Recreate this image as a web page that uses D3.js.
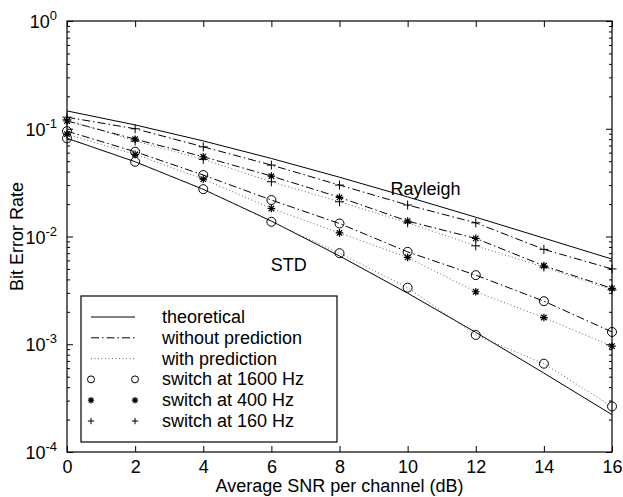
<!DOCTYPE html>
<html>
<head>
<meta charset="utf-8">
<script src="https://cdn.jsdelivr.net/npm/d3@7"></script>
<style>
  body { margin: 0; background: #fff; }
  text { font-family: "Liberation Sans", Arial, sans-serif; fill: #000; }
</style>
</head>
<body>
<div id="chart"></div>
<script>
// SNR points (dB)
const snr = [0, 2, 4, 6, 8, 10, 12, 14, 16];

// theoretical curves
const rayleigh = [0.1464, 0.1085, 0.0771, 0.0530, 0.0355, 0.0233, 0.0151, 0.00966, 0.00617];
const stdCurve = [0.0816, 0.0494, 0.0274, 0.0139, 0.0066, 0.00298, 0.00129, 0.00054, 0.000222];

// without prediction (dash-dot)
const noPred160 = [0.128, 0.100, 0.068, 0.046, 0.030, 0.0196, 0.0134, 0.0076, 0.0050];
const noPred400 = [0.118, 0.080, 0.055, 0.0364, 0.0231, 0.0139, 0.0096, 0.00535, 0.0033];
const noPred1600 = [0.095, 0.0612, 0.0372, 0.0218, 0.0132, 0.0072, 0.00438, 0.00251, 0.0013];

// with prediction (dotted)
const pred160 = [0.121, 0.077, 0.052, 0.0322, 0.021, 0.0134, 0.0082, 0.0052, 0.0032];
const pred400 = [0.089, 0.0578, 0.0341, 0.0182, 0.0108, 0.0064, 0.00307, 0.00177, 0.00096];
const pred1600 = [0.0815, 0.0494, 0.0275, 0.0137, 0.0070, 0.00335, 0.00122, 0.00066, 0.000265];

const xTicks = [0, 2, 4, 6, 8, 10, 12, 14, 16];
const yDecades = [1e-4, 1e-3, 1e-2, 1e-1, 1];
const yExponents = ['-4', '-3', '-2', '-1', '0'];

const W = 623, H = 497;
const margin = { top: 21, right: 11, bottom: 45, left: 67 };
const width = W - margin.left - margin.right;
const height = H - margin.top - margin.bottom;
const fontSize = '18px';

const svg = d3.select('#chart').append('svg')
    .attr('width', W)
    .attr('height', H);

const g = svg.append('g')
    .attr('transform', `translate(${margin.left},${margin.top})`);

const x = d3.scaleLinear().domain([0, 16]).range([0, width]);
const y = d3.scaleLog().domain([1e-4, 1]).range([height, 0]);

// line styles
const styles = {
    solid: { dash: null, color: '#000', w: 1 },
    dashdot: { dash: '8,3,1.5,3', color: '#000', w: 1 },
    dotted: { dash: '1,2.5', color: '#666', w: 1 }
};

// marker paths
function markerPath(type, s) {
    if (type === 'plus') {
        return `M${-s},0H${s}M0,${-s}V${s}`;
    }
    if (type === 'star') {
        const d = s * 0.72;
        return `M${-s},0H${s}M0,${-s}V${s}M${-d},${-d}L${d},${d}M${-d},${d}L${d},${-d}`;
    }
    return null;
}

function drawMarker(sel, type, cx, cy, size) {
    if (type === 'circle') {
        sel.append('circle')
            .attr('cx', cx).attr('cy', cy).attr('r', size)
            .attr('fill', 'none').attr('stroke', '#000').attr('stroke-width', 1);
    } else {
        sel.append('path')
            .attr('transform', `translate(${cx},${cy})`)
            .attr('d', markerPath(type, size))
            .attr('fill', 'none').attr('stroke', '#000')
            .attr('stroke-width', type === 'star' ? 1.2 : 1);
    }
}

const series = [
    { values: rayleigh, style: 'solid', marker: null },
    { values: stdCurve, style: 'solid', marker: null },
    { values: noPred160, style: 'dashdot', marker: 'plus' },
    { values: noPred400, style: 'dashdot', marker: 'star' },
    { values: noPred1600, style: 'dashdot', marker: 'circle' },
    { values: pred160, style: 'dotted', marker: 'plus' },
    { values: pred400, style: 'dotted', marker: 'star' },
    { values: pred1600, style: 'dotted', marker: 'circle' }
];

const line = d3.line()
    .x((d, i) => x(snr[i]))
    .y(d => y(d));

const plot = g.append('g');

series.forEach(s => {
    const st = styles[s.style];
    plot.append('path')
        .datum(s.values)
        .attr('d', line)
        .attr('fill', 'none')
        .attr('stroke', st.color)
        .attr('stroke-width', st.w)
        .attr('stroke-dasharray', st.dash);
});

series.forEach(s => {
    if (!s.marker) return;
    const size = s.marker === 'circle' ? 4.5 : (s.marker === 'star' ? 3.8 : 4.5);
    s.values.forEach((v, i) => drawMarker(plot, s.marker, x(snr[i]), y(v), size));
});

// curve labels
g.append('text')
    .attr('x', x(9.5)).attr('y', y(0.0245))
    .style('font-size', fontSize)
    .text('Rayleigh');

g.append('text')
    .attr('x', x(5.98)).attr('y', y(0.0048))
    .style('font-size', fontSize)
    .text('STD');

// axes: ticks point inward on all four sides
const minorTicks = y.ticks().filter(t => yDecades.indexOf(t) < 0);

g.append('g')
    .attr('transform', `translate(0,${height})`)
    .call(d3.axisBottom(x).tickValues(xTicks).tickSizeInner(-6).tickSizeOuter(0).tickPadding(8).tickFormat(d3.format('d')))
    .call(a => a.select('.domain').remove())
    .selectAll('text')
    .style('font-size', fontSize)
    .style('font-family', '"Liberation Sans", Arial, sans-serif');

g.append('g')
    .call(d3.axisTop(x).tickValues(xTicks).tickSizeInner(-6).tickSizeOuter(0).tickFormat(''))
    .call(a => a.select('.domain').remove());

[d3.axisLeft, d3.axisRight].forEach((axisFn, k) => {
    const ag = g.append('g')
        .attr('transform', k === 1 ? `translate(${width},0)` : null);
    ag.append('g')
        .call(axisFn(y).tickValues(yDecades).tickSizeInner(-6).tickSizeOuter(0).tickFormat(''))
        .call(a => a.select('.domain').remove());
    ag.append('g')
        .call(axisFn(y).tickValues(minorTicks).tickSizeInner(-3).tickSizeOuter(0).tickFormat(''))
        .call(a => a.select('.domain').remove());
});

g.selectAll('.tick line').attr('stroke', '#000');

// y tick labels 10^n
const yLab = g.append('g').selectAll('text')
    .data(yDecades)
    .enter()
    .append('text')
    .attr('x', -10)
    .attr('y', d => y(d) + 7)
    .attr('text-anchor', 'end')
    .style('font-size', fontSize);

yLab.append('tspan').text('10');
yLab.append('tspan')
    .attr('dy', -8)
    .style('font-size', '13px')
    .text((d, i) => yExponents[i]);

// frame
g.append('rect')
    .attr('width', width).attr('height', height)
    .attr('fill', 'none').attr('stroke', '#000').attr('stroke-width', 1.2);

// axis titles
svg.append('text')
    .attr('x', margin.left + width / 2).attr('y', 492)
    .attr('text-anchor', 'middle')
    .style('font-size', fontSize)
    .text('Average SNR per channel (dB)');

svg.append('text')
    .attr('transform', `translate(23,${margin.top + height / 2}) rotate(-90)`)
    .attr('text-anchor', 'middle')
    .style('font-size', fontSize)
    .text('Bit Error Rate');

// legend
const legendItems = [
    { label: 'theoretical', style: 'solid', marker: null },
    { label: 'without prediction', style: 'dashdot', marker: null },
    { label: 'with prediction', style: 'dotted', marker: null },
    { label: 'switch at 1600 Hz', style: null, marker: 'circle' },
    { label: 'switch at 400 Hz', style: null, marker: 'star' },
    { label: 'switch at 160 Hz', style: null, marker: 'plus' }
];

const legend = svg.append('g')
    .attr('transform', 'translate(81,296)');

legend.append('rect')
    .attr('width', 256).attr('height', 146)
    .attr('fill', '#fff').attr('stroke', '#000').attr('stroke-width', 1.2);

legendItems.forEach((item, i) => {
    const ly = 21 + i * 20.8;
    if (item.style) {
        const st = styles[item.style];
        legend.append('line')
            .attr('x1', 10).attr('x2', 54)
            .attr('y1', ly).attr('y2', ly)
            .attr('stroke', st.color)
            .attr('stroke-width', st.w)
            .attr('stroke-dasharray', st.dash);
    }
    if (item.marker) {
        const size = item.marker === 'circle' ? 3.5 : 3.2;
        drawMarker(legend, item.marker, 10, ly, size);
        drawMarker(legend, item.marker, 54, ly, size);
    }
    legend.append('text')
        .attr('x', 81).attr('y', ly + 6)
        .style('font-size', fontSize)
        .text(item.label);
});
</script>
</body>
</html>
